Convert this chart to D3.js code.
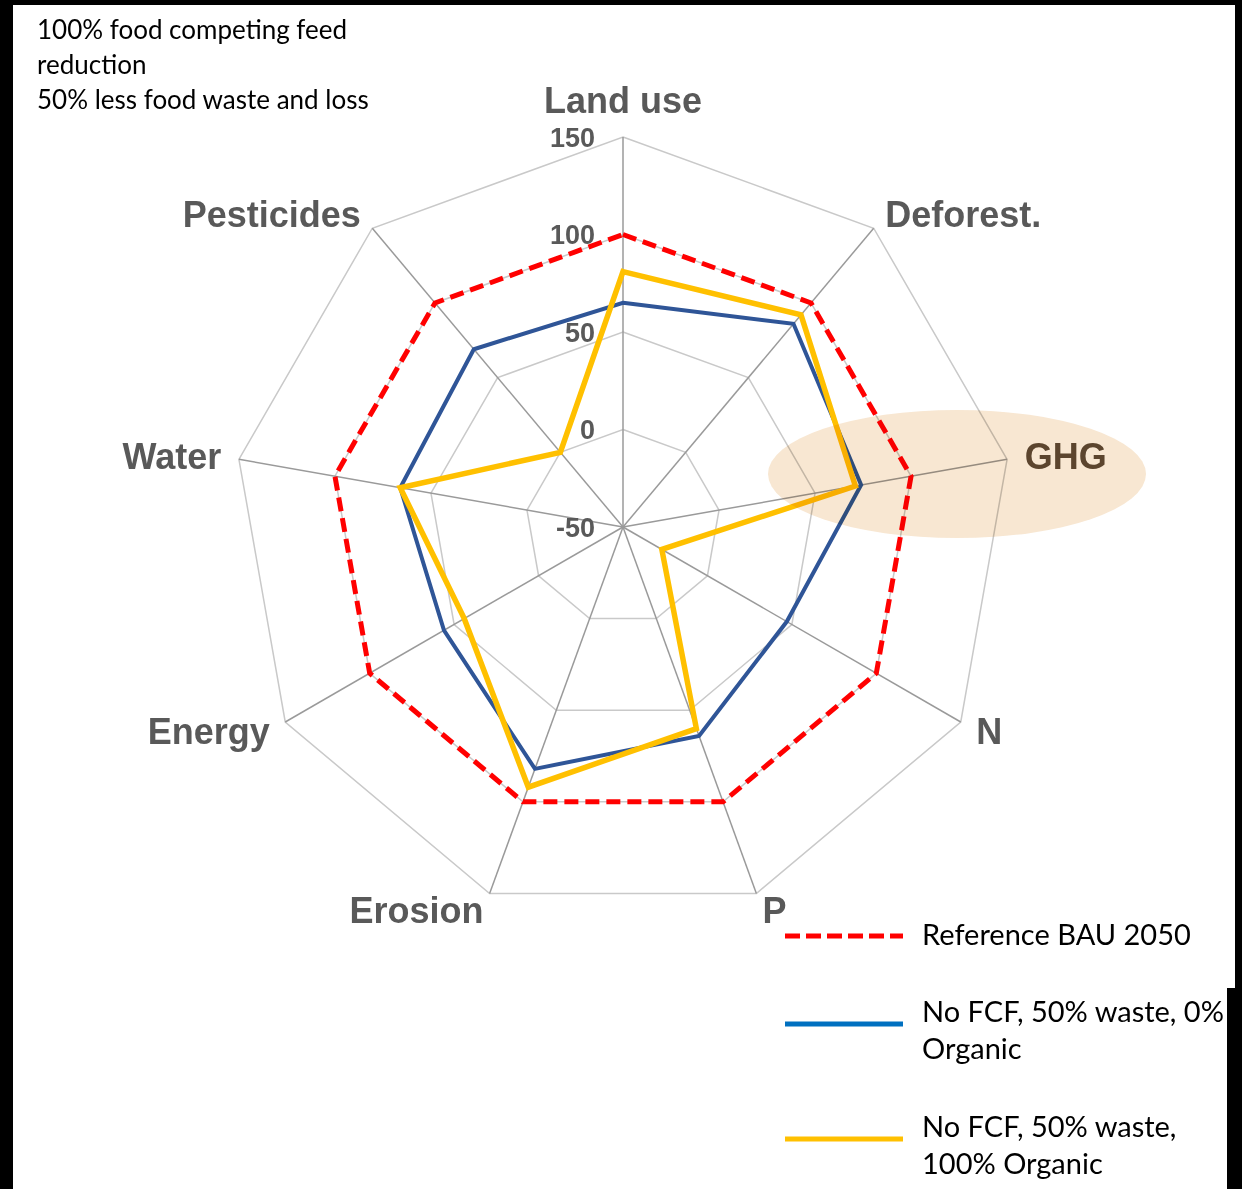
<!DOCTYPE html>
<html>
<head>
<meta charset="utf-8">
<script src="https://cdnjs.cloudflare.com/ajax/libs/d3/7.8.5/d3.min.js"></script>
<style>
  body { margin: 0; background: #fff; }
  svg { display: block; }
</style>
</head>
<body>
<div id="canvas"></div>
<script>
// axes, clockwise from the top
const axes = ["Land use", "Deforest.", "GHG", "N", "P", "Erosion", "Energy", "Water", "Pesticides"];
const ticks = [-50, 0, 50, 100, 150];
const refBAU = [100, 100, 100, 100, 100, 100, 100, 100, 100];
const noOrganic = [65, 86, 74, 47, 64, 82, 56, 66, 69];
const fullOrganic = [81, 92, 71, -27, 60, 92, 44, 66, 0];

const seriesNames = ["Reference BAU 2050", "No FCF, 50% waste, 0% Organic", "No FCF, 50% waste, 100% Organic"];
const noteLines = ["100% food competing feed", "reduction", "50% less food waste and loss"];

const W = 1242, H = 1189;
const cx = 623, cy = 527, R = 390;

const svg = d3.select("#canvas").append("svg")
    .attr("width", W)
    .attr("height", H);

// black frame of the slide crop
svg.append("rect").attr("x", 0).attr("y", 0).attr("width", W).attr("height", 5).attr("fill", "#000");
svg.append("rect").attr("x", 0).attr("y", 0).attr("width", 13).attr("height", H).attr("fill", "#000");
svg.append("rect").attr("x", 1235).attr("y", 0).attr("width", 7).attr("height", 988).attr("fill", "#000");
svg.append("rect").attr("x", 1227).attr("y", 988).attr("width", 15).attr("height", H - 988).attr("fill", "#000");

const g = svg.append("g")
    .attr("transform", `translate(${cx}, ${cy})`);

const r = d3.scaleLinear()
    .domain([-50, 150])
    .range([0, R]);

const angle = d3.scaleLinear()
    .domain([0, axes.length])
    .range([0, 2 * Math.PI]);

const px = (i, v) => r(v) * Math.sin(angle(i));
const py = (i, v) => -r(v) * Math.cos(angle(i));

// rings
g.selectAll(".ring")
    .data(ticks.slice(1))
    .enter().append("polygon")
    .attr("class", "ring")
    .attr("points", t => axes.map((a, i) => [px(i, t), py(i, t)].join(",")).join(" "))
    .attr("fill", "none")
    .attr("stroke", "#c9c9c9")
    .attr("stroke-width", 1.5);

// spokes
g.selectAll(".spoke")
    .data(axes)
    .enter().append("line")
    .attr("class", "spoke")
    .attr("x1", 0).attr("y1", 0)
    .attr("x2", (d, i) => px(i, 150))
    .attr("y2", (d, i) => py(i, 150))
    .attr("stroke", "#9a9a9a")
    .attr("stroke-width", 1.5);

// tick labels along the top axis
g.selectAll(".tick")
    .data(ticks)
    .enter().append("text")
    .attr("class", "tick")
    .attr("x", -28)
    .attr("y", d => -r(d))
    .attr("dy", "0.36em")
    .attr("text-anchor", "end")
    .attr("font-family", "Liberation Sans, Arial, sans-serif")
    .attr("font-weight", "bold")
    .attr("font-size", 27)
    .attr("fill", "#595959")
    .text(d => d);

// axis labels
g.selectAll(".axis-label")
    .data(axes)
    .enter().append("text")
    .attr("class", "axis-label")
    .attr("x", (d, i) => (R + 18) * Math.sin(angle(i)))
    .attr("y", (d, i) => -(R + (i === 0 ? 37 : 18)) * Math.cos(angle(i)))
    .attr("dy", "0.36em")
    .attr("text-anchor", (d, i) => {
        const s = Math.sin(angle(i));
        return s > 0.1 ? "start" : s < -0.1 ? "end" : "middle";
    })
    .attr("font-family", "Liberation Sans, Arial, sans-serif")
    .attr("font-weight", "bold")
    .attr("font-size", 36)
    .attr("fill", (d, i) => i === 2 ? "#5e4c38" : "#595959")
    .text(d => d);

const radar = d3.lineRadial()
    .angle((d, i) => angle(i))
    .radius(d => r(d))
    .curve(d3.curveLinearClosed);

const series = [
    { values: noOrganic, color: "#2f5597", width: 4, dash: null },
    { values: fullOrganic, color: "#ffc000", width: 5.5, dash: null },
    { values: refBAU, color: "#ff0000", width: 5, dash: "14,7" }
];

g.selectAll(".series")
    .data(series)
    .enter().append("path")
    .attr("class", "series")
    .attr("d", d => radar(d.values))
    .attr("fill", "none")
    .attr("stroke", d => d.color)
    .attr("stroke-width", d => d.width)
    .attr("stroke-dasharray", d => d.dash)
    .attr("stroke-linejoin", "miter");

// GHG highlight
svg.append("ellipse")
    .attr("cx", 957).attr("cy", 474)
    .attr("rx", 189).attr("ry", 64)
    .attr("fill", "#eab97c")
    .attr("opacity", 0.35)
    .style("mix-blend-mode", "multiply");

// top-left note
svg.append("g").selectAll("text")
    .data(noteLines)
    .enter().append("text")
    .attr("x", 37)
    .attr("y", (d, i) => 39 + i * 35)
    .attr("font-family", "Lato, sans-serif")
    .attr("font-size", 26)
    .attr("fill", "#000")
    .text(d => d);

// legend
const legend = [
    { color: "#ff0000", dash: "15,6", y: 936, lines: ["Reference BAU 2050"], ty: 945 },
    { color: "#0070c0", dash: null, y: 1024, lines: ["No FCF, 50% waste, 0%", "Organic"], ty: 1022 },
    { color: "#ffc000", dash: null, y: 1139, lines: ["No FCF, 50% waste,", "100% Organic"], ty: 1137 }
];

const lg = svg.append("g");
legend.forEach((d, k) => {
    lg.append("line")
        .attr("x1", 785).attr("x2", 903)
        .attr("y1", d.y).attr("y2", d.y)
        .attr("stroke", d.color)
        .attr("stroke-width", 5)
        .attr("stroke-dasharray", d.dash);
    const t = lg.append("text")
        .attr("font-family", "Lato, sans-serif")
        .attr("font-size", 29)
        .attr("fill", "#000")
        .attr("aria-label", seriesNames[k]);
    d.lines.forEach((line, j) => {
        t.append("tspan")
            .attr("x", 922)
            .attr("y", d.ty + j * 37)
            .text(line);
    });
});
</script>
</body>
</html>
